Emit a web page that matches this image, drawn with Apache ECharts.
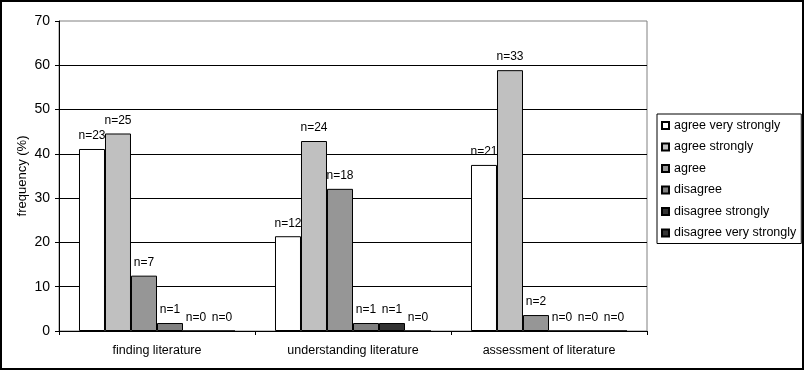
<!DOCTYPE html>
<html>
<head>
<meta charset="utf-8">
<script src="https://cdn.jsdelivr.net/npm/echarts@6/dist/echarts.min.js"></script>
<style>html,body{margin:0;padding:0;background:#fff}#c{width:805px;height:371px}</style>
</head>
<body>
<div id="c"></div>
<script>
var categories = ['finding literature', 'understanding literature', 'assessment of literature'];
var seriesNames = ['agree very strongly', 'agree strongly', 'agree', 'disagree', 'disagree strongly', 'disagree very strongly'];
var yTicks = [0, 10, 20, 30, 40, 50, 60, 70];

var agreeVeryStrongly = [41.1, 21.4, 37.5];
var agreeStrongly = [44.6, 42.9, 58.9];
var agree = [12.5, 32.1, 3.6];
var disagree = [1.8, 1.8, 0];
var disagreeStrongly = [0, 1.8, 0];
var disagreeVeryStrongly = [0, 0, 0];

var nAgreeVeryStrongly = [23, 12, 21];
var nAgreeStrongly = [25, 24, 33];
var nAgree = [7, 18, 2];
var nDisagree = [1, 1, 0];
var nDisagreeStrongly = [0, 1, 0];
var nDisagreeVeryStrongly = [0, 0, 0];

var values = [agreeVeryStrongly, agreeStrongly, agree, disagree, disagreeStrongly, disagreeVeryStrongly];
var counts = [nAgreeVeryStrongly, nAgreeStrongly, nAgree, nDisagree, nDisagreeStrongly, nDisagreeVeryStrongly];
var colors = ['#ffffff', '#c0c0c0', '#969696', '#808080', '#333333', '#333333'];

var FONT = 'Arial, "Liberation Sans", sans-serif';

var series = seriesNames.map(function (name, i) {
  return {
    name: name,
    type: 'bar',
    data: values[i],
    barGap: '0%',
    barCategoryGap: '20.4%',
    itemStyle: { color: colors[i], borderColor: '#000', borderWidth: 1 },
    label: {
      show: true,
      position: 'top',
      distance: 7,
      color: '#000',
      fontFamily: FONT,
      fontSize: 12,
      formatter: function (p) { return 'n=' + counts[i][p.dataIndex]; }
    },
    labelLayout: { hideOverlap: false },
    animation: false
  };
});

var chart = echarts.init(document.getElementById('c'), null, { renderer: 'canvas' });
chart.setOption({
  backgroundColor: '#fff',
  animation: false,
  textStyle: { fontFamily: FONT },
  grid: {
    left: 59, top: 21, right: 158, bottom: 40,
    show: true, borderColor: '#808080', borderWidth: 1, backgroundColor: 'transparent'
  },
  legend: {
    orient: 'vertical',
    left: 657, top: 114,
    padding: [5, 5, 4, 4],
    borderColor: '#000', borderWidth: 1,
    itemWidth: 7, itemHeight: 7,
    itemGap: 8.5,
    itemTextGap: 5,
    icon: 'rect',
    textStyle: { fontFamily: FONT, fontSize: 12.5, color: '#000', lineHeight: 12 },
    data: seriesNames
  },
  xAxis: {
    type: 'category',
    data: categories,
    axisLine: { lineStyle: { color: '#000', width: 1 } },
    axisTick: { show: true, length: 4, alignWithLabel: false, interval: 0, lineStyle: { color: '#000' } },
    axisLabel: { color: '#000', fontFamily: FONT, fontSize: 12.5, margin: 13, interval: 0 }
  },
  yAxis: {
    type: 'value',
    min: yTicks[0], max: yTicks[yTicks.length - 1], interval: yTicks[1] - yTicks[0],
    name: 'frequency (%)',
    nameLocation: 'middle',
    nameGap: 30,
    nameRotate: 90,
    nameMoveOverlap: false,
    nameTextStyle: { color: '#000', fontFamily: FONT, fontSize: 13 },
    axisLine: { show: true, lineStyle: { color: '#000', width: 1 } },
    axisTick: { show: true, length: 4, lineStyle: { color: '#000' } },
    axisLabel: { color: '#000', fontFamily: FONT, fontSize: 14, margin: 9 },
    splitLine: { show: true, showMaxLine: false, lineStyle: { color: '#000', width: 1 } }
  },
  graphic: [{
    type: 'rect',
    shape: { x: 1, y: 1, width: 802, height: 368 },
    style: { fill: 'none', stroke: '#000', lineWidth: 2 },
    silent: true,
    z: 100
  }],
  series: series
});
</script>
</body>
</html>
